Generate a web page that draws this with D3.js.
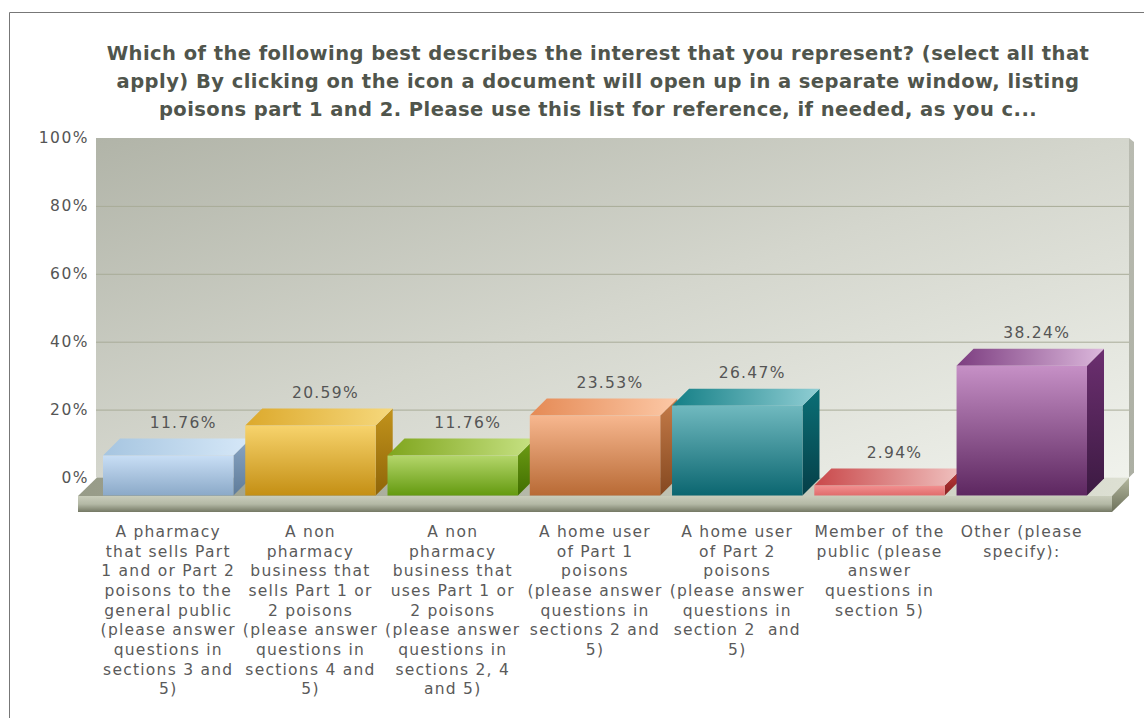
<!DOCTYPE html>
<html><head><meta charset="utf-8">
<script src="https://cdn.jsdelivr.net/npm/d3@7"></script>
<style>
html,body{margin:0;padding:0;background:#fff}
svg{display:block}
text{font-family:"DejaVu Sans",Verdana,sans-serif}
</style></head><body>
<svg id="c" width="1144" height="718"></svg>
<script>
const titleLines = [
  "Which of the following best describes the interest that you represent? (select all that",
  "apply) By clicking on the icon a document will open up in a separate window, listing",
  "poisons part 1 and 2. Please use this list for reference, if needed, as you c..."
];
const categories = ["pharmacy","nonSells","nonUses","homeP1","homeP2","public","other"];
const values = [11.76, 20.59, 11.76, 23.53, 26.47, 2.94, 38.24];
const categoryLabels = [
  ["A pharmacy","that sells Part","1 and or Part 2","poisons to the","general public","(please answer","questions in","sections 3 and","5)"],
  ["A non","pharmacy","business that","sells Part 1 or","2 poisons","(please answer","questions in","sections 4 and","5)"],
  ["A non","pharmacy","business that","uses Part 1 or","2 poisons","(please answer","questions in","sections 2, 4","and 5)"],
  ["A home user","of Part 1","poisons","(please answer","questions in","sections 2 and","5)"],
  ["A home user","of Part 2","poisons","(please answer","questions in","section 2  and","5)"],
  ["Member of the","public (please","answer","questions in","section 5)"],
  ["Other (please","specify):"]
];
const yTicks = [0,20,40,60,80,100];
const frontColors = [["#c8def5","#8ba9c8"],["#f7d36c","#c48f14"],["#b4d66a","#649a10"],["#f7b78f","#b86a35"],["#70b9bf","#0b6670"],["#f29090","#e06c6c"],["#c690c6","#5d2760"]];
const topColors = [["#a6c5e0","#d6e8f8"],["#dca92c","#f6d87c"],["#7fa51d","#c7e284"],["#e58a55","#fcc8a6"],["#147f86","#90ced4"],["#c9484a","#f0c2c0"],["#7c3d80","#dcb8dc"]];
const sideColors = [["#8aa6c4","#5f7c9a"],["#c2931c","#8f6508"],["#6f9e16","#406e00"],["#c67c49","#844820"],["#0b6f76","#053f48"],["#c04040","#8a2020"],["#6c2f70","#3c1a42"]];

const svg = d3.select("#c");
const defs = svg.append("defs");
function grad(id, stops, x2, y2){
  const g = defs.append("linearGradient").attr("id",id).attr("x1",0).attr("y1",0).attr("x2",x2).attr("y2",y2);
  stops.forEach((c,i)=>g.append("stop").attr("offset",i/(stops.length-1)).attr("stop-color",c));
}
grad("wall",["#b1b4a8","#d4d6cd","#f0f2ec"],1,1);
grad("floorTop",["#979b88","#dde0d3"],1,0);
grad("floorFront",["#c9cdbb","#b4b9a6","#747864"],0,1);
grad("floorSide",["#b4b89f","#6d715b"],0,1);
grad("sideWall",["#b9bbb1","#acafa3"],0,1);
categories.forEach((c,i)=>{
  grad("f"+i,frontColors[i],0,1);
  grad("t"+i,topColors[i],1,0);
  grad("s"+i,sideColors[i],0,1);
});

const depth = 17;
const y = d3.scaleLinear().domain([0,100]).range([477.5,138]);
const x = d3.scaleBand().domain(categories).range([103,1087]).paddingInner(0.083).paddingOuter(0);
const wallL = 96, wallR = 1129;
const pts = a => a.map(p=>p.join(",")).join(" ");

// outer frame
svg.append("path").attr("d","M9.5,718V12.5H1144").attr("fill","none").attr("stroke","#777");

// title
svg.append("g").selectAll("text").data(titleLines).join("text")
  .attr("x",598).attr("y",(d,i)=>60+i*28).attr("text-anchor","middle")
  .attr("font-size",19.5).attr("font-weight","bold").attr("letter-spacing",0.45).attr("fill","#50554c").text(d=>d);

// wall
svg.append("rect").attr("x",wallL).attr("y",y(100)).attr("width",wallR-wallL).attr("height",y(0)-y(100)).attr("fill","url(#wall)");
svg.append("polygon").attr("fill","url(#sideWall)")
  .attr("points",pts([[wallR,y(100)],[wallR+5,y(100)+4],[wallR+5,y(0)-5],[wallR,y(0)]]));

// axis + grid
const axis = d3.axisLeft(y).tickValues(yTicks).tickFormat(d=>d+"%").tickSize(0).tickPadding(7);
const ag = svg.append("g").attr("transform",`translate(${wallL},0)`).call(axis);
ag.select(".domain").remove();
ag.selectAll("text").attr("font-size",15.5).attr("letter-spacing",1.5).attr("fill","#555").attr("font-family",'"DejaVu Sans"');
ag.selectAll(".tick").append("line").attr("x1",0).attr("x2",wallR-wallL).attr("stroke","#a8ac98").attr("stroke-width",1)
  .attr("display",d=>(d===0||d===100)?"none":null);

// floor
const fy = y(0)+18.5, fh = 16, fl = 78, fr = 1112;
svg.append("polygon").attr("fill","url(#floorTop)").attr("points",pts([[fl,fy],[fr,fy],[wallR,y(0)],[wallL+1,y(0)]]));
svg.append("rect").attr("x",fl).attr("y",fy).attr("width",fr-fl).attr("height",fh).attr("fill","url(#floorFront)");
svg.append("polygon").attr("fill","url(#floorSide)").attr("points",pts([[fr,fy],[wallR,y(0)],[wallR,y(0)+18],[fr,fy+fh]]));

// bars
const base = y(0)+depth+1;
const fTop = v => base-(y(0)-y(v));
const bars = svg.append("g").selectAll("g").data(values).join("g");
bars.append("polygon").attr("fill",(d,i)=>`url(#s${i})`).attr("points",(d,i)=>{
  const r = x(categories[i])+x.bandwidth();
  return pts([[r,fTop(d)],[r+depth,fTop(d)-depth],[r+depth,base-depth],[r,base]]);
});
bars.append("polygon").attr("fill",(d,i)=>`url(#t${i})`).attr("points",(d,i)=>{
  const l = x(categories[i]), r = l+x.bandwidth();
  return pts([[l,fTop(d)],[r,fTop(d)],[r+depth,fTop(d)-depth],[l+depth,fTop(d)-depth]]);
});
bars.append("rect").attr("fill",(d,i)=>`url(#f${i})`)
  .attr("x",(d,i)=>x(categories[i])).attr("width",x.bandwidth())
  .attr("y",d=>fTop(d)).attr("height",d=>base-fTop(d));

// value labels
svg.append("g").selectAll("text").data(values).join("text")
  .attr("x",(d,i)=>x(categories[i])+x.bandwidth()/2+15)
  .attr("y",d=>fTop(d)-depth-11).attr("text-anchor","middle")
  .attr("font-size",15.5).attr("letter-spacing",1.3).attr("fill","#555").text(d=>d.toFixed(2)+"%");

// category labels
const lg = svg.append("g").selectAll("g").data(categoryLabels).join("g")
  .attr("transform",(d,i)=>`translate(${x(categories[i])+x.bandwidth()/2},0)`);
lg.selectAll("text").data(d=>d).join("text")
  .attr("x",0).attr("y",(d,i)=>537+i*19.67).attr("text-anchor","middle")
  .attr("font-size",15.5).attr("letter-spacing",1.25).attr("fill","#5a5a5a").attr("xml:space","preserve").text(d=>d);
</script>
</body></html>
